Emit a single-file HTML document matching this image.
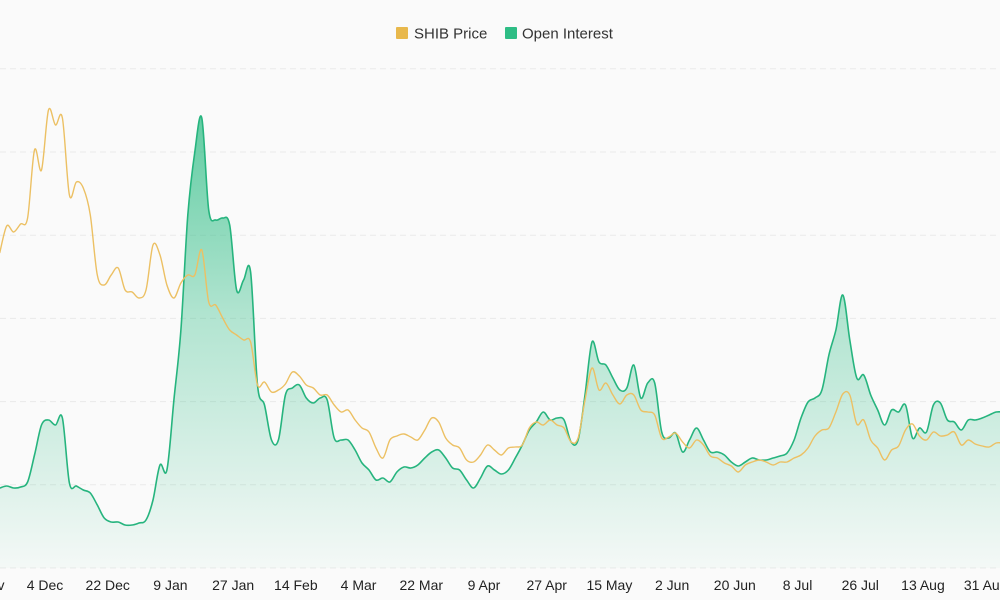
<!DOCTYPE html>
<html><head><meta charset="utf-8">
<style>
html,body{margin:0;padding:0;background:#fafafa;}
body{width:1000px;height:600px;overflow:hidden;font-family:"Liberation Sans",sans-serif;}
svg{display:block}
</style></head>
<body>
<svg id="chart" width="1000" height="600">
<defs>
<linearGradient id="oiGrad" x1="0" y1="0" x2="0" y2="1">
<stop offset="0" stop-color="#2ebd85" stop-opacity="0.75"/>
<stop offset="0.45" stop-color="#2ebd85" stop-opacity="0.35"/>
<stop offset="1" stop-color="#2ebd85" stop-opacity="0.03"/>
</linearGradient>
</defs>
<g id="grid"></g>
<g id="series"></g>
<g id="xaxis"></g>
<g>
<rect x="396" y="27" width="12" height="12" rx="1" fill="#e8b84c"/>
<text x="414" y="38.5" font-size="15" fill="#333">SHIB Price</text>
<rect x="505" y="27" width="12" height="12" rx="1" fill="#2ebd85"/>
<text x="522" y="38.5" font-size="15" fill="#333">Open Interest</text>
</g>
</svg>
<script>
const startDay = -13;
const stepDays = 2;
const openInterest = [16,16.4,16,16.2,17.2,22.6,28.6,29.6,28.6,30,17,16.4,15.6,15,12.6,10,9.2,9.2,8.6,8.6,9,9.6,13.6,20.6,19.6,33.6,47.6,70.6,83.2,90,71.6,69.6,70,68.6,55.6,57.6,59.2,36.6,32.6,25.6,25.6,34.6,36,36.6,34,33,34,33.6,26,25.6,25.6,23.6,21,19.6,17.6,18,17.2,19.2,20.2,20,20.6,22,23.2,23.6,22,20,19.6,17.6,16,18,20.4,19.6,18.8,19.6,22,24.6,27.6,29.2,31.2,29.6,30,29.6,25.2,25.6,34.6,45.2,41.2,40.6,38,35.6,36,40.6,34,37,37,27.2,26,27,23.2,25.6,28,25.6,23.2,23.2,22.6,21.2,20.4,21.2,22,21.6,21.6,22,22.4,23,25.6,30,33.2,34,35.6,42.6,47.6,54.6,45.6,38,38.6,34.6,31.6,28.6,31.6,31.2,32.6,26,28,27.2,32.6,33,29.6,29.2,27.6,29.6,29.6,30,30.6,31.2,31.2];
const shibPrice = [63,68.4,67.2,68.8,70,83.6,79.6,91.6,88.6,90,74.6,77.2,76,70.6,58.6,56.6,58.6,60,55.6,55.2,54,55.6,64.6,62.6,56.6,54,57,58.6,58.6,63.6,53.2,52.6,50,47.6,46.6,45.6,45.2,36.6,37.2,35.2,35.6,36.8,39.2,38.4,36.6,36,34.6,34.6,32.6,31.2,31.6,29.6,28,27.2,24,22,25.6,26.4,26.8,26.2,25.6,27.6,30,29.2,26,24.6,24,21.6,21.2,22.6,24.6,23.6,22.6,24,24.2,24.6,28,29.2,28.6,29.6,28.6,28,25.2,26,33.6,40,35.6,37,34.6,32.8,34.6,34.6,31.6,31.2,30.6,26,26.2,27,25.2,24,25.6,24.6,22.4,22,21,20.4,19.2,20.6,21.2,21.6,21.2,20.6,21.2,21.2,22,22.6,24,26.4,27.6,28,31.2,34.8,34.6,28.8,29.6,25.6,24,21.6,23.6,24.4,27.6,28.8,26.4,25.6,27.2,26.4,26.6,27.2,24.6,25.6,24.8,24.4,24.2,25,25];
const tickLabels = ["16 Nov","4 Dec","22 Dec","9 Jan","27 Jan","14 Feb","4 Mar","22 Mar","9 Apr","27 Apr","15 May","2 Jun","20 Jun","8 Jul","26 Jul","13 Aug","31 Aug"];
const tickDays = [-18,0,18,36,54,72,90,108,126,144,162,180,198,216,234,252,270];
const gridValues = [0,16.64,33.28,49.92,66.56,83.2,99.84];

const NS = "http://www.w3.org/2000/svg";
function xScale(d){ return 45 + d*3.484; }
function yScale(v){ return 568 - v*5; }
function pts(arr){ return arr.map((v,i)=>[xScale(startDay+i*stepDays), yScale(v)]); }
function smooth(p){
  let d = "M"+p[0][0].toFixed(1)+","+p[0][1].toFixed(1);
  for(let i=0;i<p.length-1;i++){
    const p0=p[i-1]||p[i], p1=p[i], p2=p[i+1], p3=p[i+2]||p2;
    const c1x=p1[0]+(p2[0]-p0[0])/6, c1y=p1[1]+(p2[1]-p0[1])/6;
    const c2x=p2[0]-(p3[0]-p1[0])/6, c2y=p2[1]-(p3[1]-p1[1])/6;
    d+="C"+c1x.toFixed(1)+","+c1y.toFixed(1)+" "+c2x.toFixed(1)+","+c2y.toFixed(1)+" "+p2[0].toFixed(1)+","+p2[1].toFixed(1);
  }
  return d;
}
const grid=document.getElementById("grid");
gridValues.forEach(v=>{
  const l=document.createElementNS(NS,"line");
  
  
  l.setAttribute("x1",0);l.setAttribute("x2",1000);
  l.setAttribute("y1",yScale(v));l.setAttribute("y2",yScale(v));
  l.setAttribute("stroke","#e9e9e9");l.setAttribute("stroke-dasharray","6 4");l.setAttribute("stroke-width","1");
  grid.appendChild(l);
});
const series=document.getElementById("series");
const oiP=pts(openInterest);
const oiLine=smooth(oiP);
const area=document.createElementNS(NS,"path");


area.setAttribute("d",oiLine+"L"+oiP[oiP.length-1][0].toFixed(1)+","+yScale(0)+"L"+oiP[0][0].toFixed(1)+","+yScale(0)+"Z");
area.setAttribute("fill","url(#oiGrad)");
series.appendChild(area);
const oi=document.createElementNS(NS,"path");


oi.setAttribute("d",oiLine);oi.setAttribute("fill","none");oi.setAttribute("stroke","#26b47e");oi.setAttribute("stroke-width","1.6");
series.appendChild(oi);
const pr=document.createElementNS(NS,"path");


pr.setAttribute("d",smooth(pts(shibPrice)));pr.setAttribute("fill","none");pr.setAttribute("stroke","#ecc063");pr.setAttribute("stroke-width","1.4");
series.appendChild(pr);
const xa=document.getElementById("xaxis");
tickLabels.forEach((t,i)=>{
  const tx=document.createElementNS(NS,"text");
  
  
  tx.setAttribute("x",xScale(tickDays[i]));tx.setAttribute("y",590);
  tx.setAttribute("text-anchor","middle");tx.setAttribute("font-size","14");tx.setAttribute("fill","#222");
  tx.textContent=t;xa.appendChild(tx);
});
</script>
</body></html>
